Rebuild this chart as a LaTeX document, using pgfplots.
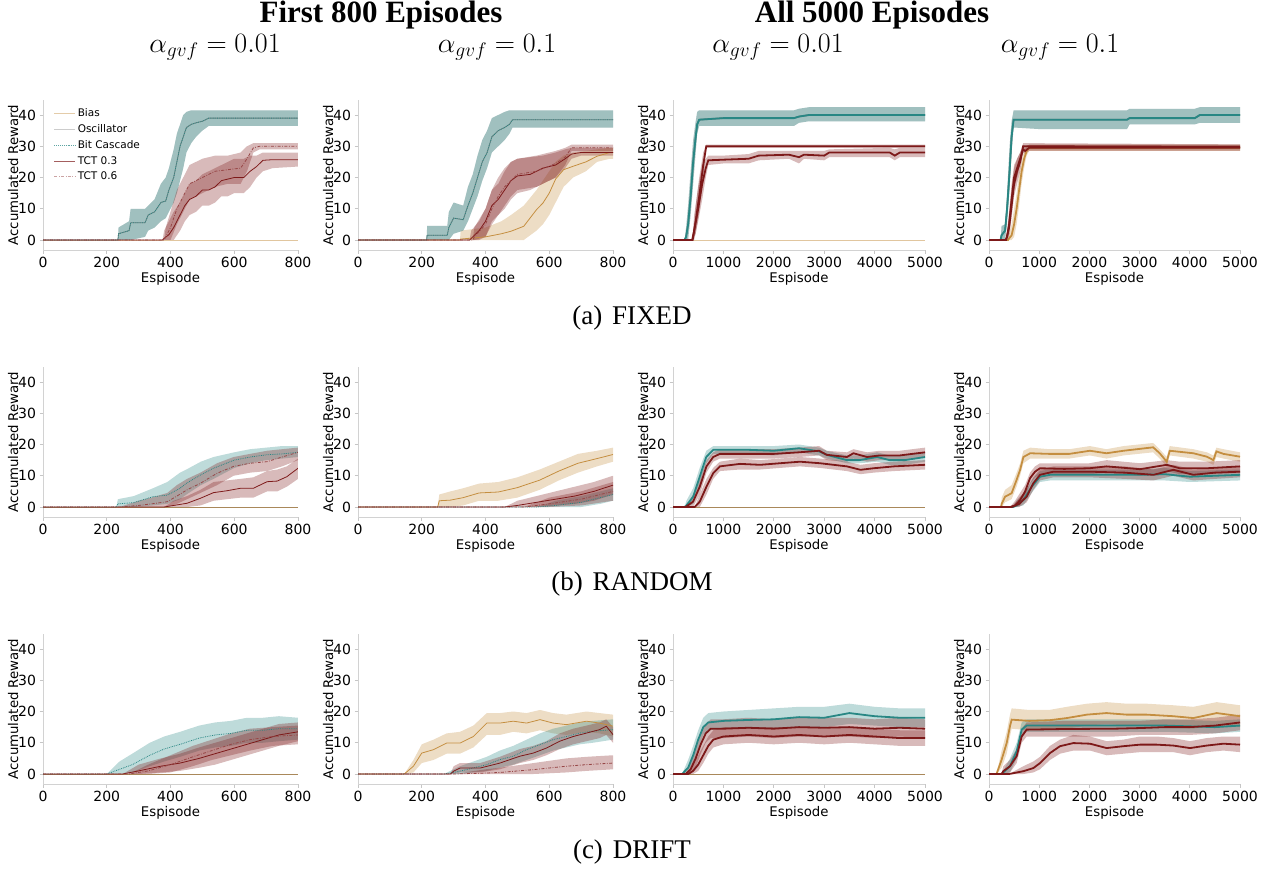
\RequirePackage{fix-cm}
\documentclass[border=0pt]{standalone}
\usepackage[no-math]{fontspec}
\setmainfont{DejaVu Sans}
\newfontfamily\serif{Liberation Serif}
\usepackage{pgfplots}
\usepackage{pgfplotstable}
\pgfplotsset{compat=1.18}
\usepgfplotslibrary{fillbetween}

\definecolor{cbias}{RGB}{196,142,64}
\definecolor{cosc}{RGB}{115,128,128}
\definecolor{cteal}{RGB}{40,135,132}
\definecolor{cred}{RGB}{125,25,25}

\tikzset{
 lb/.style={cbias, line width=0.8pt},
 lo/.style={cosc, line width=0.8pt},
 lt/.style={cteal, line width=0.8pt, densely dotted},
 lr/.style={cred, line width=0.8pt},
 ls/.style={cred!80, line width=0.8pt, dash pattern=on 3pt off 1.5pt on 0.8pt off 1.5pt},
 Lb/.style={cbias, line width=1.8pt},
 Lo/.style={cosc, line width=1.6pt},
 Lt/.style={cteal, line width=1.8pt},
 Lr/.style={cred, line width=1.8pt},
 Ls/.style={cred, line width=1.8pt},
}

\pgfplotsset{
 panel/.style={scale only axis, height=150pt, ymin=-3.2, ymax=44.8,
  axis x line*=bottom, axis y line*=left,
  axis line style={gray!35, line width=0.8pt, -},
  tick style={gray!45, line width=0.8pt}, tick align=outside, major tick length=3.5pt,
  ytick={0,10,20,30,40},
  xlabel={Espisode}, ylabel={Accumulated Reward},
  ticklabel style={font=\fontsize{14}{16}\selectfont},
  label style={font=\fontsize{13.3}{15}\selectfont},
  xlabel style={yshift=2pt},
  ylabel style={yshift=-7pt},
  /pgf/number format/assume math mode=true,
  /pgf/number format/set thousands separator={},
  anchor=south west},
 p8/.style={panel, xmin=0, xmax=800, xtick={0,200,...,800}},
 p5/.style={panel, xmin=0, xmax=5000, xtick={0,1000,...,5000}},
}

\newcommand{\ser}[4]{%
 \addplot[draw=none, forget plot, name path=#4h] table[x=x,y=h]{#1};
 \addplot[draw=none, forget plot, name path=#4l] table[x=x,y=l]{#1};
 \addplot[fill=#2, fill opacity=0.3, draw=none, forget plot] fill between[of=#4h and #4l];
 \addplot[#3, forget plot] table[x=x,y=m]{#1};
}
\newcommand{\zer}[2]{%
 \addplot[#2, forget plot] table[x=x,y=m]{#1};
}

% ---------- zero series ----------
\pgfplotstableread{
x m
0 0
800 0
}\zeroA
\pgfplotstableread{
x m
0 0
5000 0
}\zeroB

% ---------- (a) FIXED, first 800, 0.01 ----------
\pgfplotstableread{
x m l h
0 0 0 0
235 0 0 0
237 2 0 4
270 3 0 6
275 5.5 0 10
320 5.5 1 10
330 8 3 11
350 9 4 13
370 12 6 18
385 12.5 7 20
395 16 9 23
410 20 12 29
420 25 15 34
430 30 19 37
440 33 23 40
450 36 28 41
465 37 31 41.5
480 37.5 33 41.5
500 38 35 41.5
520 39 36.5 41.5
600 39 36.5 41.5
700 39 36.5 41.5
800 39 36.5 41.5
}\aAt
\pgfplotstableread{
x m l h
0 0 0 0
375 0 0 0
380 0.5 0 3
395 1.7 0 6
410 4 0 9
430 8 3 12
445 11 6 15
460 13 8 18
480 14 9 19
500 16 11 21
520 16 11 22
540 17 12 23
560 19 14 24
580 19.5 14 25
600 20 15 26
630 20 15 26
650 22 17 27
670 23.5 20 27
690 25.5 22 28
720 25.7 23 28
800 25.7 23.5 28
}\aAr
\pgfplotstableread{
x m l h
0 0 0 0
380 0 0 0
385 1 0 4
400 4 0 9
420 10 5 16
440 14 9 20
460 18 13 24
480 19 14 25
500 20 15 26
540 22 17 27
580 22.5 18 27
620 23 18 28
640 26 22 30
660 29.5 28 31
680 30 29 31
800 30 29 31
}\aAs

% ---------- (a) FIXED, first 800, 0.1 ----------
\pgfplotstableread{
x m l h
0 0 0 0
320 0 0 0
322 0.3 0 3
400 1 0 4
450 2 0 6
480 2.8 0 8
520 4.4 0 11
560 9.7 3 16
580 11.8 5 19
600 15 8 22
620 19.5 12 25
645 22.5 17 27
675 23.6 20 28
715 25 22 28.5
750 26.8 25 29
790 28 26 29.5
800 28 26 29.5
}\aBb
\pgfplotstableread{
x m l h
0 0 0 0
215 0 0 0
217 1.5 0 4.5
280 1.5 0 4.5
285 4 0 9
300 7 2 12
330 6.5 3 11
345 11 6 17
360 15 10 21
375 20 14 27
390 25 19 32
405 28 23 35
420 33 28 39
440 35 30 40
460 36 32 41
475 37 34 41.5
485 38.5 36 41.5
600 38.5 36 41.5
700 38.5 36 41.5
800 38.5 36 41.5
}\aBt
\pgfplotstableread{
x m l h
0 0 0 0
350 0 0 0
355 0.5 0 3
380 3 0 6
400 6 1 10
420 11 6 16
440 13 8 18
460 16 10 22
480 19 13 25
500 20.5 15 26
540 21 16 26.5
580 23 18 27
620 24 20 28
650 26 23 29
670 27.5 26 29.5
700 28 27 29.5
800 28 27 29.5
}\aBr
\pgfplotstableread{
x m l h
0 0 0 0
360 0 0 0
365 1 0 4
400 5 1 10
420 10 5 16
440 14 8 20
460 17 11 23
480 19 14 25
500 21 16 26
560 22 17 27
620 24.5 20 28.5
650 26.5 24 29.5
670 29.5 28.5 30.5
800 29.5 28.5 30.5
}\aBs

% ---------- (a) FIXED, 5000, 0.01 ----------
\pgfplotstableread{
x m l h
0 0 0 0
230 0 0 0
260 1 0 4
300 5 0 11
350 14 8 22
400 25 18 32
450 33 28 38
480 37 34 41
520 38.5 36.5 41.5
1000 39 36.5 41.5
2000 39 36.5 41.5
2400 39 36.5 41.5
2500 39.5 37.5 42
2700 40 38 42.5
3500 40 38 42.5
4000 40 38 42.5
5000 40 38 42.5
}\aCt
\pgfplotstableread{
x m l h
0 0 0 0
380 0 0 0
420 3 0 8
500 10 6 17
580 18 13 24
650 23 20 26
700 25.5 24 27
1000 25.7 24.5 27
1500 26 24.5 27.5
1700 27 25.5 28.5
2300 27.3 26 28.5
2500 26.5 24.5 28.5
2600 27.3 26 28.5
3000 27 25.5 28.5
3100 28 26.5 29
4300 28 26.5 29.5
4400 27 25.5 29
4500 28 26.5 29.5
5000 28 26.5 29.5
}\aCr
\pgfplotstableread{
x m l h
0 0 0 0
390 0 0 0
450 6 2 11
520 14 9 20
600 24 20 28
660 30 29.5 30.5
2000 30 29.5 30.5
5000 30 29.5 30.5
}\aCs

% ---------- (a) FIXED, 5000, 0.1 ----------
\pgfplotstableread{
x m l h
0 0 0 0
380 0 0 0
400 0.5 0 2
450 1.5 0 5
500 5 1 10
550 10 5 15
600 16 11 21
650 22 18 26
700 26 23 28.5
750 28.5 27 30
800 29.5 28.5 30.5
5000 29.5 28.5 30.5
}\aDb
\pgfplotstableread{
x m l h
0 0 0 0
230 0 0 0
250 1.5 0 4.5
320 3 0 5
360 10 6 15
410 22 16 30
450 33 28 38
490 38.5 36 41.5
1000 38.5 35.5 41.5
2000 38.5 35.5 41.5
2750 38.5 35.5 41.5
2800 39 37 42
4100 39 37 42
4200 40 37.5 42.5
5000 40 37.5 42.5
}\aDt
\pgfplotstableread{
x m l h
0 0 0 0
330 0 0 0
360 1 0 3
400 5 2 9
450 13 9 18
500 20 16 24
560 23 20 26
620 26 24 28
680 29 28 30.5
720 28.5 27.5 30
800 29.5 28.5 30.5
5000 29.5 28.5 30.5
}\aDr
\pgfplotstableread{
x m l h
0 0 0 0
340 0 0 0
400 4 1 8
450 11 7 16
500 18 14 23
560 22 18 26
620 25 22 28
680 30 29 31
5000 29.8 29 30.6
}\aDs

% ---------- (b) RANDOM, 800, 0.01 ----------
\pgfplotstableread{
x m l h
0 0 0 0
230 0 0 0
235 1 0 2.5
285 1.4 0 3.5
345 3.3 0.5 6
390 3.8 1 8
430 6 2.5 11
450 7.6 4 12
495 10.3 7 14.5
535 12.4 9 16
600 15 12.5 17.5
650 16 14 18.5
700 16.7 15 19
750 17 15.5 19.5
800 17.5 16 19.5
}\bAt
\pgfplotstableread{
x m l h
0 0 0 0
380 0 0 0
410 0.5 0 2
452 1.2 0 3.5
494 2.8 0.5 5.5
535 4.6 2 8
577 5.2 2.5 8.5
620 6 3 9
660 6 3 9.5
703 8.1 5 11.5
735 8.3 5 12
765 9.7 6.5 13
800 12.4 9 15.5
}\bAr
\pgfplotstableread{
x m l h
0 0 0 0
240 0 0 0
300 0.5 0 2
340 1 0 3
390 1.7 0 4.5
420 3.5 1 7
452 5.5 2.5 9
494 7.6 4.5 11
546 10.8 7 14
598 13 10 16
650 14 11 17
703 14.5 11.5 18
750 16 13 18.5
800 17.5 15 19
}\bAs

% ---------- (b) RANDOM, 800, 0.1 ----------
\pgfplotstableread{
x m l h
0 0 0 0
250 0 0 0
255 2 0 4
290 2.2 0 5
330 3 0.5 6
380 4.5 2 7.5
440 4.8 2 8
500 6.2 3 9.5
570 8.6 5.5 12
630 11.5 8.5 14.5
690 14 11 17
750 15.5 13 18
800 16.8 14.5 19
}\bBb
\pgfplotstableread{
x m l h
0 0 0 0
560 0 0 0
620 0.5 0 2
700 1.5 0 3.5
760 3 1 5
800 4 2 6
}\bBt
\pgfplotstableread{
x m l h
0 0 0 0
460 0 0 0
500 0.5 0 2
560 1.5 0 3.5
620 2.5 0.5 5
680 3.5 1 6.5
740 5 2 8
800 7 4 10
}\bBr
\pgfplotstableread{
x m l h
0 0 0 0
520 0 0 0
600 1 0 3
700 2.5 0.5 5
800 5 2 8
}\bBs

% ---------- (b) RANDOM, 5000, 0.01 ----------
\pgfplotstableread{
x m l h
0 0 0 0
230 0 0 0
266 0.5 0 2
400 3.3 1 6
530 9.7 7 12.5
660 16 14 18
800 18.3 17 19.5
1500 18.3 17 19.5
2000 18 16.5 19.5
2500 18.8 17.5 20
2900 17.8 16.5 19
3050 16.7 15.5 18
3450 15 14 16.5
3700 15 14 16.5
4050 16 14.5 17.5
4300 15 13.5 16.5
4600 15 13.5 16.5
5000 16 14.5 17.5
}\bCt
\pgfplotstableread{
x m l h
0 0 0 0
430 0 0 0
531 1.7 0 4
664 6.5 4 9
797 10.8 9 12.5
930 13 11.5 14.5
1330 13.8 12 15.5
1730 13.5 12 15
2120 14 12.5 15.5
2520 14.5 13 16
2920 14 12.5 15.5
3450 13 11.5 14.5
3720 11.9 10.5 13.5
3980 12.4 11 14
4380 13 11.5 14.5
5000 13.5 12 15
}\bCr
\pgfplotstableread{
x m l h
0 0 0 0
250 0 0 0
398 1.7 0 4
531 6.5 4 9
664 13 11 15
797 16 14.5 17.5
930 17 15.5 18.5
2000 17 15.5 18.5
2500 17.5 16 19
2900 18 16.5 19.5
3050 16.7 15 18
3450 16 14.5 17.5
3580 17.2 15.5 18.5
3850 16 14.5 17.5
4100 16.5 15 18
4500 16.5 15 18
5000 17.5 16 19
}\bCs

% ---------- (b) RANDOM, 5000, 0.1 ----------
\pgfplotstableread{
x m l h
0 0 0 0
240 0 0 0
252 1 0 3
320 3.3 1.5 5.5
450 4.4 2.5 7
550 8.7 6.5 11
620 11.9 10 14
685 16 14 18
820 17.2 15.5 19
1200 17 15.5 18.5
1600 17 15.5 18.5
2010 18 16.5 19.5
2340 17.2 15.5 18.5
2680 18 16.5 19.5
3270 19.1 17.5 20.5
3400 17.2 15.5 18.5
3540 14.5 13 16
3600 18 16.5 19.5
4070 17.2 15.5 18.5
4340 16.1 14.5 17.5
4470 15 13.5 16.5
4530 17.8 16 19
4670 17 15.5 18.5
5000 16.1 14.5 17.5
}\bDb
\pgfplotstableread{
x m l h
0 0 0 0
480 0 0 0
551 0.5 0 2
684 2.2 0.5 4
850 6.5 4.5 8.5
1016 9.7 8 11.5
1215 10.3 8.5 12
2000 10.3 8.5 12
3008 10.3 8.5 12
3500 10.5 8.5 12.5
4004 9.7 8 11.5
5000 10.3 8.5 12
}\bDt
\pgfplotstableread{
x m l h
0 0 0 0
420 0 0 0
520 0.5 0 2
618 2.2 0.5 4.5
717 4.9 3 7
817 9.2 7.5 11
916 11.3 9.5 13
1016 12.4 10.5 14
1500 12.2 10.5 14
2000 12.4 10.5 14
2344 13 11 15
3008 12.1 10 14
3540 13.5 11.5 15
3800 12.4 10.5 14.5
4336 12.4 10.5 14.5
5000 13 11 15
}\bDr
\pgfplotstableread{
x m l h
0 0 0 0
450 0 0 0
600 1 0 3
750 3.3 1.5 5.5
883 7.6 5.5 9.5
1016 10.3 8.5 12
1282 11.3 9.5 13
2000 11.3 9.5 13
2700 11 9 13
3274 10.3 8.5 12
3672 11.9 10 13.5
4070 10.3 8.5 12
4500 11 9 12.5
5000 11.3 9.5 13
}\bDs

% ---------- (c) DRIFT, 800, 0.01 ----------
\pgfplotstableread{
x m l h
0 0 0 0
200 0 0 0
240 1.5 0 4
280 3 0.5 6.5
335 6 2.5 10
380 8 4 12
430 9.5 5.5 13.5
490 11.5 7.5 15.5
540 12.5 8.5 16.5
590 13 9 17
640 14 10 18
690 14 10 18
740 14.5 10.5 18.5
800 14.5 11 18
}\cAt
\pgfplotstableread{
x m l h
0 0 0 0
250 0 0 0
300 1 0 3
370 2.5 0.5 5
430 3.5 1 6.5
490 5 2 8.5
540 6.5 3 10
590 8 4.5 11.5
640 9.5 6 13
690 11 7.5 14.5
740 12.5 9 16
800 13.5 10.5 16.5
}\cAr
\pgfplotstableread{
x m l h
0 0 0 0
270 0 0 0
330 1 0 3
400 3 0.5 6
470 5.5 2.5 9
530 7.5 4.5 11
590 9.5 6 13
650 11 7.5 14.5
720 12 9 15
800 12.5 9.5 15.5
}\cAs

% ---------- (c) DRIFT, 800, 0.1 ----------
\pgfplotstableread{
x m l h
0 0 0 0
145 0 0 0
174 2.5 0.5 4.5
200 6.7 3.5 9.5
237 7.8 4.5 11
278 9.9 6.5 13
320 9.9 6.5 13.5
362 12 8.5 15.5
404 16.3 12.5 19.5
445 16.3 12.5 19.5
487 16.9 13.5 20
529 16.3 13 19.5
571 17.4 14 20.5
612 16.3 13 19.5
654 15.8 12.5 19
717 16.9 13.5 20
758 16.3 13 19.5
800 15.3 12 19
}\cBb
\pgfplotstableread{
x m l h
0 0 0 0
270 0 0 0
320 0.9 0 2.5
404 3 1 5.5
445 4.6 2 7.5
487 5.7 3 9
529 7.8 4.5 11
571 9.4 6 13
612 11 7.5 14.5
654 12 8.5 15.5
696 13.1 9.5 16.5
737 13.7 10 17
800 14.2 11 17.5
}\cBt
\pgfplotstableread{
x m l h
0 0 0 0
290 0 0 0
300 0.9 0 2.5
320 1.9 0.5 3.5
383 1.9 0.5 3.5
445 3.5 1.5 5.5
508 5.7 3.5 8
550 6.7 4.5 9
591 8.3 6 10.5
633 10.5 8 13
675 12 9.5 14.5
717 13.1 10.5 15.5
758 14.2 11.5 16.5
779 15.3 12.5 17.5
800 12.6 10 15
}\cBr
\pgfplotstableread{
x m l h
0 0 0 0
300 0 0 0
400 0.3 0 1.5
445 0.5 0 2
550 1.4 0 3.5
654 2.5 0.5 5
717 3 1 5.5
800 3.5 1.5 6
}\cBs

% ---------- (c) DRIFT, 5000, 0.01 ----------
\pgfplotstableread{
x m l h
0 0 0 0
180 0 0 0
300 2 0 4.5
400 6 3 9
500 11 8 14
600 15 12.5 18
700 16.5 14 19.5
1000 17 14.5 20
1500 17.3 14.5 20.5
2000 17.5 14.5 21
2500 18.2 15 21.5
3000 18 15 21.5
3500 19.5 16 22.5
4000 18.5 15.5 21.5
4500 18 15 21
5000 18 15 21
}\cCt
\pgfplotstableread{
x m l h
0 0 0 0
250 0 0 0
350 1.5 0 4
450 5 2 8
550 9.5 6.5 12.5
650 13 10 16
750 14.5 11.5 17.5
1000 14.5 11.5 17.5
1500 14.8 12 18
2000 14.5 11.5 17.5
2500 15 12 18
3000 14.8 12 18
3500 15 12 18
4000 14.5 11.5 17.5
4500 14.8 12 18
5000 14.5 11.5 17.5
}\cCr
\pgfplotstableread{
x m l h
0 0 0 0
300 0 0 0
400 1 0 3
500 3 1 6
600 6 3.5 9
700 9 6.5 12
800 11 8.5 14
1000 12 9.5 15
1500 12.5 10 15
2000 12 9.5 15
2500 12.5 10 15
3000 12 9.5 14.5
3500 12.5 10 15
4000 12 9.5 14.5
4500 11.5 9 14
5000 11.5 9 14
}\cCs

% ---------- (c) DRIFT, 5000, 0.1 ----------
\pgfplotstableread{
x m l h
0 0 0 0
150 0 0 0
252 4.6 2 7.5
352 9.9 6.5 13.5
418 15.3 12 19
451 17.4 14.5 21
800 17 14 20.5
1200 17.2 14 20.5
1550 17.9 14.5 21.5
1950 19 15.5 22.5
2340 19.5 16 23
2740 19 15.5 22.5
3140 19 15.5 22.5
3670 18.5 15 22
4070 17.9 14.5 21.5
4535 19.5 16 23
5000 18.5 15 22
}\cDb
\pgfplotstableread{
x m l h
0 0 0 0
250 0 0 0
418 2.5 0.5 5
551 7.3 5 10
651 14.2 12 16.5
750 15.5 13.5 17.5
1500 15.5 13.5 17.5
2500 15.5 13.5 17.5
3500 15.5 13.5 17.5
4500 15 13 17
5000 15.5 13.5 17.5
}\cDt
\pgfplotstableread{
x m l h
0 0 0 0
250 0 0 0
285 0.9 0 2.5
418 2.5 0.5 4.5
551 5.7 3.5 8
651 12 10 14.5
750 14.2 12 16.5
1500 14.4 12 17
2500 14.5 12 17
3000 14.7 12.5 17
3500 15 12.5 17.5
4000 15 12.5 17.5
4500 15.5 13 18
5000 16.5 14 19
}\cDr
\pgfplotstableread{
x m l h
0 0 0 0
400 0 0 0
684 0.9 0 2.5
883 1.9 0.5 4
1016 3.5 1.5 5.5
1215 6.7 4.5 9
1414 8.9 6.5 11
1680 9.9 7.5 12.5
2012 9.7 7.5 12
2344 8.3 6 10.5
2676 8.9 6.5 11
3008 9.4 7 12
3340 9.4 7 12
3672 9.1 7 11.5
4004 8.3 6 10.5
4336 9.1 7 11.5
4668 9.7 7.5 12
5000 9.4 7 12
}\cDs

\begin{document}
\begin{tikzpicture}

% titles
\node[font=\serif\bfseries\fontsize{31}{34}\selectfont] at (381pt,-15pt) {First 800 Episodes};
\node[font=\serif\bfseries\fontsize{31}{34}\selectfont] at (872pt,-15pt) {All 5000 Episodes};
\node[font=\fontsize{28}{32}\selectfont] at (215pt,-47pt) {$\alpha_{gvf} = 0.01$};
\node[font=\fontsize{28}{32}\selectfont] at (497pt,-47pt) {$\alpha_{gvf} = 0.1$};
\node[font=\fontsize{28}{32}\selectfont] at (778pt,-47pt) {$\alpha_{gvf} = 0.01$};
\node[font=\fontsize{28}{32}\selectfont] at (1060pt,-47pt) {$\alpha_{gvf} = 0.1$};
\node[font=\serif\fontsize{27}{30}\selectfont] at (632pt,-318pt) {(a)\hspace{10pt}FIXED};
\node[font=\serif\fontsize{27}{30}\selectfont] at (632pt,-584pt) {(b)\hspace{10pt}RANDOM};
\node[font=\serif\fontsize{27}{30}\selectfont] at (632pt,-852pt) {(c)\hspace{10pt}DRIFT};

% ===== row a =====
\begin{axis}[p8, width=255pt, at={(43pt,-250pt)},
  legend style={at={(0.03,0.97)}, anchor=north west, draw=none, fill=none,
    font=\fontsize{10.5}{12}\selectfont, row sep=2.4pt},
  legend cell align=left]
\addlegendimage{legend image code/.code={\draw[cbias!45, line width=0.9pt] (0pt,0pt) -- (21pt,0pt);}}\addlegendentry{Bias}
\addlegendimage{legend image code/.code={\draw[gray!40, line width=0.9pt] (0pt,0pt) -- (21pt,0pt);}}\addlegendentry{Oscillator}
\addlegendimage{legend image code/.code={\draw[cteal!75, line width=0.9pt, densely dotted] (0pt,0pt) -- (21pt,0pt);}}\addlegendentry{Bit Cascade}
\addlegendimage{legend image code/.code={\draw[cred!70, line width=0.9pt] (0pt,0pt) -- (21pt,0pt);}}\addlegendentry{TCT 0.3}
\addlegendimage{legend image code/.code={\draw[cred!40, line width=0.9pt, dash pattern=on 3pt off 1.5pt on 0.8pt off 1.5pt] (0pt,0pt) -- (21pt,0pt);}}\addlegendentry{TCT 0.6}
\zer{\zeroA}{cbias!50, line width=0.9pt}
\ser{\aAt}{cosc}{lo}{aAo}
\ser{\aAt}{cteal}{lt}{aAt}
\ser{\aAr}{cred}{lr}{aAr}
\ser{\aAs}{cred}{ls}{aAs}
\end{axis}

\begin{axis}[p8, width=255pt, at={(358pt,-250pt)}]
\ser{\aBb}{cbias}{lb}{aBb}
\ser{\aBt}{cosc}{lo}{aBo}
\ser{\aBt}{cteal}{lt}{aBt}
\ser{\aBr}{cred}{lr}{aBr}
\ser{\aBs}{cred}{ls}{aBs}
\end{axis}

\begin{axis}[p5, width=252pt, at={(673pt,-250pt)}]
\zer{\zeroB}{cbias!50, line width=0.9pt}
\ser{\aCt}{cosc}{Lo}{aCo}
\ser{\aCt}{cteal}{Lt}{aCt}
\ser{\aCr}{cred}{Lr}{aCr}
\ser{\aCs}{cred}{Ls}{aCs}
\end{axis}

\begin{axis}[p5, width=251pt, at={(989pt,-250pt)}]
\ser{\aDb}{cbias}{Lb}{aDb}
\ser{\aDt}{cosc}{Lo}{aDo}
\ser{\aDt}{cteal}{Lt}{aDt}
\ser{\aDr}{cred}{Lr}{aDr}
\ser{\aDs}{cred}{Ls}{aDs}
\end{axis}

% ===== row b =====
\begin{axis}[p8, width=255pt, at={(43pt,-517pt)}]
\zer{\zeroA}{cbias!60!gray, line width=0.9pt}
\ser{\bAt}{cteal}{lt}{bAt}
\ser{\bAr}{cred}{lr}{bAr}
\ser{\bAs}{cred}{ls}{bAs}
\end{axis}

\begin{axis}[p8, width=255pt, at={(358pt,-517pt)}]
\ser{\bBb}{cbias}{lb}{bBb}
\ser{\bBt}{cteal}{lt}{bBt}
\ser{\bBr}{cred}{lr}{bBr}
\ser{\bBs}{cred}{ls}{bBs}
\end{axis}

\begin{axis}[p5, width=252pt, at={(673pt,-517pt)}]
\zer{\zeroB}{cbias!60!gray, line width=0.9pt}
\ser{\bCt}{cteal}{Lt}{bCt}
\ser{\bCr}{cred}{Lr}{bCr}
\ser{\bCs}{cred}{Ls}{bCs}
\end{axis}

\begin{axis}[p5, width=251pt, at={(989pt,-517pt)}]
\ser{\bDb}{cbias}{Lb}{bDb}
\ser{\bDt}{cteal}{Lt}{bDt}
\ser{\bDr}{cred}{Lr}{bDr}
\ser{\bDs}{cred}{Ls}{bDs}
\end{axis}

% ===== row c =====
\begin{axis}[p8, width=255pt, at={(43pt,-784pt)}]
\zer{\zeroA}{cbias!60!gray, line width=0.9pt}
\ser{\cAt}{cteal}{lt}{cAt}
\ser{\cAr}{cred}{lr}{cAr}
\ser{\cAs}{cred}{ls}{cAs}
\end{axis}

\begin{axis}[p8, width=255pt, at={(358pt,-784pt)}]
\ser{\cBb}{cbias}{lb}{cBb}
\ser{\cBt}{cteal}{lt}{cBt}
\ser{\cBr}{cred}{lr}{cBr}
\ser{\cBs}{cred}{ls}{cBs}
\end{axis}

\begin{axis}[p5, width=252pt, at={(673pt,-784pt)}]
\zer{\zeroB}{cbias!60!gray, line width=0.9pt}
\ser{\cCt}{cteal}{Lt}{cCt}
\ser{\cCr}{cred}{Lr}{cCr}
\ser{\cCs}{cred}{Ls}{cCs}
\end{axis}

\begin{axis}[p5, width=251pt, at={(989pt,-784pt)}]
\ser{\cDb}{cbias}{Lb}{cDb}
\ser{\cDt}{cteal}{Lt}{cDt}
\ser{\cDr}{cred}{Lr}{cDr}
\ser{\cDs}{cred}{Ls}{cDs}
\end{axis}

\pgfresetboundingbox
\useasboundingbox (0pt,0pt) rectangle (1277pt,-870pt);
\end{tikzpicture}
\end{document}
